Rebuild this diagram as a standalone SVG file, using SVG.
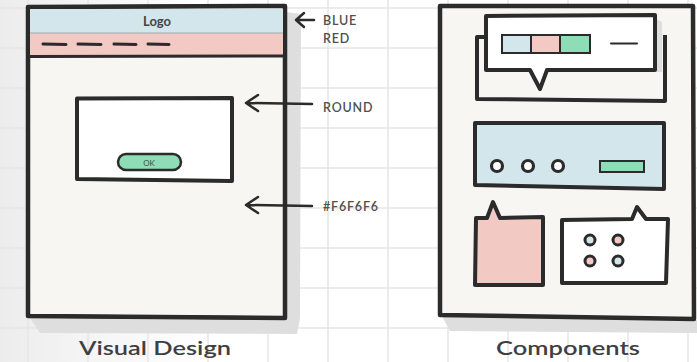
<svg xmlns="http://www.w3.org/2000/svg" width="697" height="362" viewBox="0 0 697 362">
  <defs>
    <linearGradient id="bgGrad" x1="0" y1="0" x2="1" y2="0">
      <stop offset="0" stop-color="#ECECEC"/>
      <stop offset="0.12" stop-color="#F4F4F4"/>
      <stop offset="0.3" stop-color="#FFFFFF"/>
      <stop offset="1" stop-color="#FFFFFF"/>
    </linearGradient>
  </defs>
  <style>
    .ink { stroke: #2B2B2B; stroke-linejoin: round; stroke-linecap: round; fill: none; }
    .panel { fill: #F7F6F3; stroke: #2B2B2B; stroke-width: 4.5; stroke-linejoin: round; }
    .box { stroke: #2B2B2B; stroke-width: 4; stroke-linejoin: round; }
    .shadow { fill: #DEDEDE; }
    .grid line { stroke: #E6E6E6; stroke-width: 1.5; }
    .blue { fill: #D3E6EC; }
    .pink { fill: #F3C9C4; }
    .green { fill: #8EDDB6; }
    .white { fill: #FFFFFF; }
    .note { font-family: "Lato", "Liberation Sans", sans-serif; font-size: 12.5px; font-weight: 600; fill: #505050; letter-spacing: 0.8px; }
    .title { font-family: "Lato", "Liberation Sans", sans-serif; font-size: 20px; font-weight: 600; fill: #3F3F3F; }
    .logo { font-family: "Lato", "Liberation Sans", sans-serif; font-size: 13px; font-weight: bold; fill: #444444; }
    .ok { font-family: "Lato", "Liberation Sans", sans-serif; font-size: 8px; fill: #2F5A45; }
    .arrow { stroke: #2B2B2B; stroke-width: 2.5; fill: none; stroke-linecap: round; stroke-linejoin: round; }
  </style>

  <rect x="0" y="0" width="697" height="362" fill="url(#bgGrad)"/>
  <g class="grid">
    <line x1="28" y1="0" x2="28" y2="362"/>
    <line x1="88" y1="0" x2="88" y2="362"/>
    <line x1="148" y1="0" x2="148" y2="362"/>
    <line x1="208" y1="0" x2="208" y2="362"/>
    <line x1="268" y1="0" x2="268" y2="362"/>
    <line x1="328" y1="0" x2="328" y2="362"/>
    <line x1="388" y1="0" x2="388" y2="362"/>
    <line x1="448" y1="0" x2="448" y2="362"/>
    <line x1="508" y1="0" x2="508" y2="362"/>
    <line x1="568" y1="0" x2="568" y2="362"/>
    <line x1="628" y1="0" x2="628" y2="362"/>
    <line x1="688" y1="0" x2="688" y2="362"/>
    <line x1="0" y1="8" x2="697" y2="8"/>
    <line x1="0" y1="48" x2="697" y2="48"/>
    <line x1="0" y1="88" x2="697" y2="88"/>
    <line x1="0" y1="128" x2="697" y2="128"/>
    <line x1="0" y1="168" x2="697" y2="168"/>
    <line x1="0" y1="208" x2="697" y2="208"/>
    <line x1="0" y1="248" x2="697" y2="248"/>
    <line x1="0" y1="288" x2="697" y2="288"/>
    <line x1="0" y1="328" x2="697" y2="328"/>
  </g>

  <!-- Visual Design panel -->
  <g id="visual-design">
    <path class="shadow" d="M286,12 L301,14 L300,318 L297,334 L40,333 L30,318 L286,318 Z"/>
    <path class="panel" d="M28,7 L285,6 L285,318 L28,316 Z"/>
    <rect class="blue" x="30" y="9" width="253" height="24"/>
    <rect class="pink" x="30" y="33" width="253" height="23"/>
    <line x1="30" y1="33" x2="283" y2="33" stroke="#9AAAB0" stroke-width="1"/>
    <path class="ink" stroke-width="3" d="M29,56.5 L284,56"/>
    <path class="ink" stroke-width="3.5" d="M28,7 L285,6 L285,318 L28,316 Z"/>
    <text class="logo" x="157" y="26" text-anchor="middle">Logo</text>
    <g class="ink" stroke-width="3">
      <line x1="43" y1="44" x2="66" y2="44.5"/>
      <line x1="78" y1="44" x2="101" y2="44.5"/>
      <line x1="114" y1="44" x2="136" y2="44.5"/>
      <line x1="148" y1="44" x2="169" y2="44.5"/>
    </g>
  </g>

  <g id="dialog">
    <path class="box white" d="M77,98.5 L232,98 L232,181 L77,179 Z"/>
    <rect class="green" x="118" y="154" width="63" height="16" rx="8" stroke="#2B2B2B" stroke-width="2.5"/>
    <text class="ok" x="149" y="165.5" text-anchor="middle">OK</text>
  </g>

  <text class="title" x="155" y="355" text-anchor="middle" textLength="152" lengthAdjust="spacingAndGlyphs">Visual Design</text>

  <!-- Components panel -->
  <g id="components">
    <path class="shadow" d="M442,316 L697,320 L697,333 L450,331 Z"/>
    <path class="panel" d="M440,6 L693,6 L694,319 L440,315 Z"/>
  </g>

  <g id="bubble-swatches">
    <path class="box" fill="#F7F6F3" stroke-width="3.5" d="M486,37 L477,37 L477,99 L665,101 L665,35"/>
    <path class="shadow" d="M655,18 L662,22 L662,72 L655,72 Z"/>
    <path class="box white" d="M486,16 L655,15 L655,70 L547,70 L540,89 L530,70 L486,70 Z"/>
    <g stroke="#2B2B2B" stroke-width="2">
      <rect class="blue" x="502" y="35" width="29" height="18"/>
      <rect class="pink" x="531" y="35" width="29" height="18"/>
      <rect class="green" x="560" y="35" width="30" height="18"/>
    </g>
    <line class="ink" stroke-width="2" x1="611" y1="43.5" x2="637" y2="43.5"/>
  </g>

  <g id="control-bar">
    <path class="box blue" d="M475,123 L664,123 L664,189 L475,185 Z"/>
    <g class="white" stroke="#2B2B2B" stroke-width="3.2">
      <circle cx="497" cy="166" r="5.5"/>
      <circle cx="528" cy="166" r="5.5"/>
      <circle cx="558" cy="166" r="5.5"/>
    </g>
    <rect class="green" x="600" y="161" width="44" height="11" stroke="#2B2B2B" stroke-width="2"/>
  </g>

  <g id="pink-bubble">
    <path class="box pink" d="M476,218 L487,218 L493,202 L500,218 L543,217 L543,285 L475,285 Z"/>
  </g>

  <g id="dots-bubble">
    <path class="box white" d="M562,220 L632,219 L637,207 L646,219 L668,219 L666,283 L562,283 Z"/>
    <g stroke="#2B2B2B" stroke-width="3">
      <circle class="blue" cx="590" cy="240" r="5"/>
      <circle class="pink" cx="618" cy="240" r="5"/>
      <circle class="pink" cx="590" cy="261" r="5"/>
      <circle class="blue" cx="618" cy="261" r="5"/>
    </g>
  </g>

  <text class="title" x="568" y="355" text-anchor="middle" textLength="144" lengthAdjust="spacingAndGlyphs">Components</text>

  <!-- annotation connectors -->
  <g id="connectors">
    <path class="arrow" d="M296,20 L314,20 M304,13 L296,20 L304,27"/>
    <path class="arrow" d="M246,103 L312,104 M258,95 L246,103 L258,111"/>
    <path class="arrow" d="M246,205 L312,206 M258,197 L246,205 L258,213"/>
  </g>

  <g id="labels">
    <text class="note" x="323" y="25">BLUE</text>
    <text class="note" x="323" y="43">RED</text>
    <text class="note" x="323" y="112">ROUND</text>
    <text class="note" x="323" y="211">#F6F6F6</text>
  </g>
</svg>
